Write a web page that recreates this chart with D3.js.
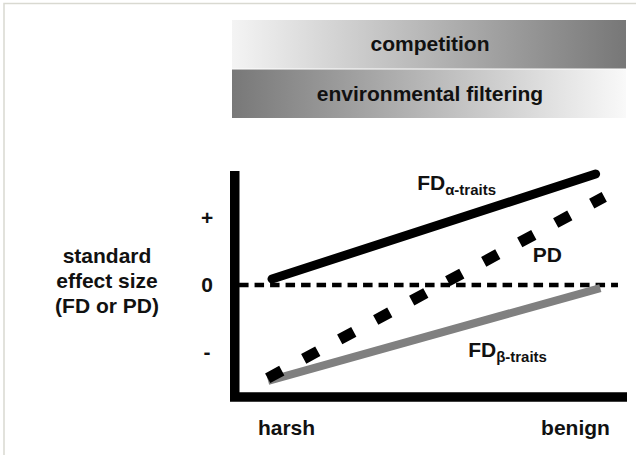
<!DOCTYPE html>
<html>
<head>
<meta charset="utf-8">
<script src="https://cdn.jsdelivr.net/npm/d3@7"></script>
<style>
  body { margin: 0; background: #fff; }
  text { font-family: "Liberation Sans", Arial, sans-serif; font-weight: bold; fill: #111; }
</style>
</head>
<body>
<div id="chart"></div>
<script>
// gradient bars on top
const barLabels = ["competition", "environmental filtering"];
const barShades = [["#f4f4f4", "#777777"], ["#787878", "#f9f9f9"]];

// axis categories and ticks
const xCats = ["harsh", "benign"];
const yTicks = [1, 0, -1];
const yTickLabels = ["+", "0", "-"];
const yTitle = ["standard", "effect size", "(FD or PD)"];

// lines (x: 0..100 along harsh->benign, y: standard effect size)
const fdAlpha = [{x: 9.5, y: 0.09}, {x: 92.0, y: 1.655}];
const pd = [{x: 8.4, y: -1.39}, {x: 94.2, y: 1.315}];
const fdBeta = [{x: 8.5, y: -1.43}, {x: 93.2, y: -0.045}];
const zeroLine = [{x: 1.1, y: 0}, {x: 97.7, y: 0}];

const width = 636, height = 455;

let svg = d3.select("#chart").append("svg")
            .attr("width", width)
            .attr("height", height);

svg.append("rect").attr("width", width).attr("height", height).attr("fill", "#fff");

// faint frame
svg.append("path")
    .attr("d", `M4,${height} V3.5 H${width}`)
    .attr("stroke", "#d9d9d1").attr("stroke-width", 1.5).attr("fill", "none");

let xScale = d3.scaleLinear().domain([0, 100]).range([234.75, 627]);
let yScale = d3.scaleLinear().domain([-1.67, 1.70]).range([397, 171]);

// bars
let bandY = d3.scaleBand().domain(barLabels).range([20, 118]).paddingInner(0.02);
let defs = svg.append("defs");
barLabels.forEach((lab, i) => {
    let g = defs.append("linearGradient").attr("id", "grad" + i)
                .attr("x1", "0%").attr("x2", "100%").attr("y1", "0%").attr("y2", "0%");
    g.append("stop").attr("offset", "0%").attr("stop-color", barShades[i][0]);
    g.append("stop").attr("offset", "100%").attr("stop-color", barShades[i][1]);
});

let bars = svg.append("g");
bars.selectAll("rect")
    .data(barLabels)
    .join("rect")
    .attr("x", 232)
    .attr("width", 626 - 232)
    .attr("y", d => bandY(d))
    .attr("height", bandY.bandwidth())
    .attr("fill", (d, i) => `url(#grad${i})`);

bars.selectAll("text")
    .data(barLabels)
    .join("text")
    .attr("x", 430)
    .attr("y", d => bandY(d) + bandY.bandwidth() / 2 + 7)
    .attr("text-anchor", "middle")
    .attr("font-size", 21)
    .text(d => d);

// lines
let linegen = d3.line().x(d => xScale(d.x)).y(d => yScale(d.y));

svg.append("path")
    .attr("d", linegen(zeroLine))
    .attr("stroke", "#000").attr("stroke-width", 4.5)
    .attr("stroke-dasharray", "9.5,6").attr("fill", "none");

svg.append("path")
    .attr("d", linegen(fdBeta))
    .attr("stroke", "#808080").attr("stroke-width", 8).attr("fill", "none");

svg.append("path")
    .attr("d", linegen(pd))
    .attr("stroke", "#000").attr("stroke-width", 11)
    .attr("stroke-dasharray", "16,24.9").attr("fill", "none");

svg.append("path")
    .attr("d", linegen(fdAlpha))
    .attr("stroke", "#000").attr("stroke-width", 9)
    .attr("stroke-linecap", "round").attr("fill", "none");

// axes frame
svg.append("path")
    .attr("d", `M${xScale(0)},${yScale(1.70)} V${yScale(-1.67)} H${xScale(100)}`)
    .attr("stroke", "#000").attr("stroke-width", 9.5).attr("fill", "none");

// y tick labels
let yAxis = svg.append("g")
    .attr("transform", `translate(${xScale(0)},0)`)
    .call(d3.axisLeft(yScale).tickValues(yTicks).tickSize(0)
          .tickFormat((d, i) => yTickLabels[i]));
yAxis.select(".domain").remove();
yAxis.selectAll("text")
    .attr("x", 207 - xScale(0))
    .attr("text-anchor", "middle")
    .attr("font-size", 21)
    .attr("font-family", null);

// x category labels
let xCat = d3.scalePoint().domain(xCats).range([286, 575]);
let xAxis = svg.append("g")
    .attr("transform", `translate(0,${yScale(-1.67)})`)
    .call(d3.axisBottom(xCat).tickSize(0));
xAxis.select(".domain").remove();
xAxis.selectAll("text")
    .attr("y", 38).attr("dy", 0)
    .attr("font-size", 21)
    .attr("font-family", null);

// y title
svg.append("text")
    .attr("x", 107).attr("y", 263)
    .attr("text-anchor", "middle")
    .attr("font-size", 21)
    .selectAll("tspan")
    .data(yTitle)
    .join("tspan")
    .attr("x", 107)
    .attr("dy", (d, i) => i === 0 ? 0 : 25)
    .text(d => d);

// series labels
function seriesLabel(x, y, main, sub) {
    let t = svg.append("text")
        .attr("x", xScale(x)).attr("y", yScale(y))
        .attr("font-size", 21);
    t.append("tspan").text(main);
    if (sub) t.append("tspan").attr("font-size", 15).attr("dy", 5).text(sub);
}
seriesLabel(46.5, 1.417, "FD", "α-traits");
seriesLabel(76.0, 0.343, "PD");
seriesLabel(59.5, -1.074, "FD", "β-traits");
</script>
</body>
</html>
